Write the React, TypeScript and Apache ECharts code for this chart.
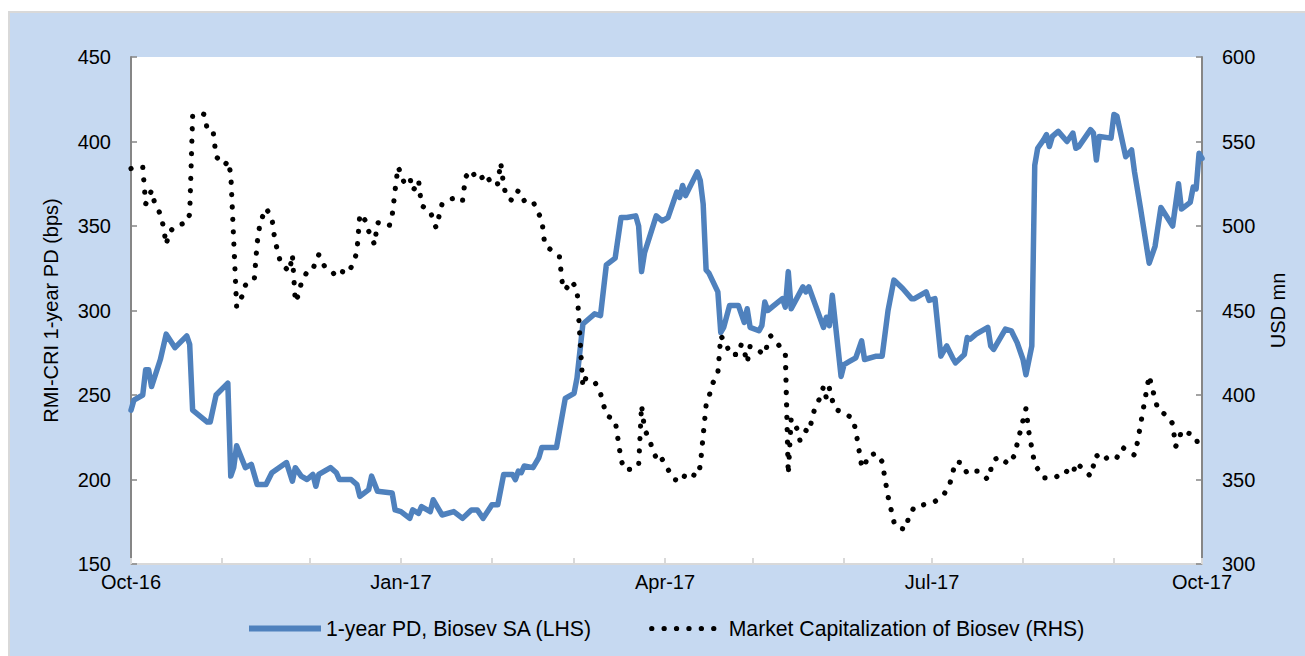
import React, { useEffect, useRef } from "react";
import * as echarts from "echarts";

// Days counted from 2016-10-01
const pdDay = [0,1,4,5,6,7,10,12,15,19,20,21,26,27,29,33,34,35,36,39,41,43,46,48,53,55,56,58,60,62,63,64,68,70,71,75,77,78,81,82,84,89,90,92,95,96,98,99,102,103,106,110,113,116,118,120,123,125,127,130,131,132,133,134,137,139,140,145,148,151,152,154,158,160,162,165,167,169,172,173,174,175,179,181,183,186,187,188,189,193,194,195,196,197,200,201,202,204,207,209,210,211,214,215,216,217,222,223,224,225,229,230,231,236,237,238,239,242,243,245,247,249,250,254,256,258,260,263,266,267,271,272,274,276,278,280,281,284,285,286,288,292,293,294,298,300,302,304,305,307,308,309,311,312,313,314,316,319,321,322,323,327,328,329,330,334,335,336,337,339,341,342,344,347,349,351,355,357,358,361,362,363,364,365];
const pdValue = [241,247,250,265,265,255,271,286,278,285,280,241,234,234,250,257,202,207,220,207,209,197,197,204,210,199,207,202,200,203,196,203,207,204,200,200,197,190,194,202,193,192,182,181,177,182,180,184,181,188,179,181,177,182,182,177,185,185,203,203,200,205,204,208,207,213,219,219,248,251,260,292,298,297,327,331,355,355,356,350,323,334,356,353,355,370,367,374,368,382,377,363,324,322,311,287,290,303,303,293,301,290,288,291,305,300,307,302,323,301,314,311,314,290,296,291,309,261,268,270,272,282,271,273,273,300,318,313,307,307,311,306,307,273,279,272,269,274,284,283,286,290,279,277,289,288,281,271,262,279,386,396,401,404,397,403,406,400,405,396,397,407,405,389,403,402,416,415,407,391,395,382,361,328,338,361,350,375,360,364,373,372,393,390];

const mcDay = [0,4,5,7,8,10,11,12,13,15,19,20,21,23,25,26,28,29,32,33,34,36,38,39,42,43,44,46,48,49,50,51,54,55,56,57,58,60,62,63,64,66,68,70,72,74,76,77,78,80,81,83,84,88,89,90,91,92,93,95,96,97,98,99,102,103,104,105,106,109,112,113,114,116,118,120,121,123,125,126,127,128,130,132,134,137,138,140,141,143,146,147,148,150,152,154,155,158,160,162,165,167,168,170,173,174,175,177,178,180,181,183,185,188,189,193,194,196,197,198,200,201,203,204,207,208,209,210,211,214,216,217,218,221,223,224,225,227,228,230,231,233,235,236,237,238,239,240,243,246,247,249,250,251,254,256,257,258,260,261,264,265,267,270,274,277,279,281,283,285,287,289,292,294,296,299,301,302,305,306,308,311,313,315,318,321,322,324,327,329,331,334,336,338,340,342,343,347,348,349,350,353,355,356,357,358,361,363,364];
const mcValue = [534,535,513,521,514,507,500,489,496,500,502,507,565,567,566,557,556,541,536,538.5,531,452,459,465,468,490,502,510.5,505,492,485,478,473,483,455,459,466,473,474,480,483,476,474,470,473,472,479,485,507,503,497,489,502,500,506,521,535,531,526,529,521,523,527,512,509,503,499,506,513,516,517,515,529,533,527,529,531,524,525,537.5,524,517,515,521,515,515,510,504,489,486,482,466,462,467.5,463,405,410,408,401,388,385,362,356,356,358,394,380,372,366,360,362,356,350,349,354,352,358,394,399,406,413,435,430,424,424,430,426,419,429,426,424,431,435,429,425,353,386,380,373,379,378,392,399,405,398,404,397,391.5,389.5,386,379,358,357,364,365.5,360.5,350,340,325,321.5,320.5,327.5,334,335,337,341,347,360.5,360,353.5,355,355,350,361.5,363.5,359,364,371,392,378,359,351,351,351,355.5,353,360,357,352,364.5,361,364.5,363,369,366,364.5,372,411.5,404,398,391,388,383,369.5,372,379,377,375,367.5];

// Month starts (days from 2016-10-01) and the labelled ones
const monthTickDays = [0,31,61,92,123,151,182,212,243,273,304,335,365];
const monthLabelDays = [0,92,182,273,365];
const monthNames = ["Jan","Feb","Mar","Apr","May","Jun","Jul","Aug","Sep","Oct","Nov","Dec"];

const pdName = "1-year PD, Biosev SA (LHS)";
const mcName = "Market Capitalization of Biosev (RHS)";
const leftAxisName = "RMI-CRI 1-year PD (bps)";
const rightAxisName = "USD mn";

const dayToLabel = (day: number) => {
  const d = new Date(2016, 9, 1 + Math.round(day));
  return monthNames[d.getMonth()] + "-" + String(d.getFullYear()).slice(2);
};

export default function App() {
  const ref = useRef<HTMLDivElement>(null);
  useEffect(() => {
    if (!ref.current) return;
    const chart = echarts.init(ref.current, null, { renderer: "svg" });
    const font = "'Liberation Sans', Arial, sans-serif";
    const hiddenSymbol = { color: "transparent", borderColor: "transparent", borderWidth: 0, opacity: 0 };
    chart.setOption({
      animation: false,
      textStyle: { fontFamily: font },
      grid: {
        left: 131, right: 103, top: 57, bottom: 92,
        show: true, backgroundColor: "#ffffff", borderWidth: 0,
      },
      xAxis: {
        type: "value",
        min: 0,
        max: 365,
        axisLine: { show: true, onZero: false, lineStyle: { color: "#d9d9d9", width: 2 } },
        axisTick: {
          show: true, inside: true, length: 6,
          lineStyle: { color: "#d9d9d9", width: 2 },
          customValues: monthTickDays,
        },
        axisLabel: {
          customValues: monthLabelDays,
          formatter: (v: number) => dayToLabel(v),
          color: "#000", fontSize: 20, margin: 8, fontFamily: font,
          showMinLabel: true, showMaxLabel: true, hideOverlap: false,
        },
        splitLine: { show: false },
      },
      yAxis: [
        {
          type: "value", position: "left", min: 150, max: 450, interval: 50,
          name: leftAxisName, nameLocation: "middle", nameGap: 70, nameRotate: 90,
          nameTextStyle: { fontSize: 20, color: "#000", fontFamily: font },
          axisLine: { show: true, lineStyle: { color: "#868686", width: 2 } },
          axisTick: { show: true, inside: true, length: 6, lineStyle: { color: "#868686", width: 1.5 } },
          axisLabel: { color: "#000", fontSize: 20, margin: 20, fontFamily: font },
          splitLine: { show: false },
        },
        {
          type: "value", position: "right", min: 300, max: 600, interval: 50,
          name: rightAxisName, nameLocation: "middle", nameGap: 66, nameRotate: 90,
          nameTextStyle: { fontSize: 20, color: "#000", fontFamily: font },
          axisLine: { show: true, lineStyle: { color: "#868686", width: 2 } },
          axisTick: { show: true, inside: true, length: 6, lineStyle: { color: "#868686", width: 1.5 } },
          axisLabel: { color: "#000", fontSize: 20, margin: 20, fontFamily: font },
          splitLine: { show: false },
        },
      ],
      legend: {
        left: 246, top: 618, padding: 0,
        itemWidth: 72, itemHeight: 14, itemGap: 57,
        textStyle: { fontSize: 21.2, color: "#000", fontFamily: font },
        data: [
          { name: pdName, itemStyle: hiddenSymbol, lineStyle: { width: 6, cap: "butt" } },
          { name: mcName, itemStyle: hiddenSymbol, lineStyle: { width: 5.2, cap: "round" } },
        ],
      },
      series: [
        {
          name: pdName, type: "line", yAxisIndex: 0,
          data: pdDay.map((d, i) => [d, pdValue[i]]),
          symbol: "none", showSymbol: false,
          lineStyle: { color: "#4F81BD", width: 5.5, join: "round", cap: "round" },
          itemStyle: { color: "#4F81BD" },
        },
        {
          name: mcName, type: "line", yAxisIndex: 1,
          data: mcDay.map((d, i) => [d, mcValue[i]]),
          symbol: "none", showSymbol: false,
          lineStyle: { color: "#000000", width: 5.2, type: [0.1, 12.3], cap: "round", join: "round" },
          itemStyle: { color: "#000000" },
        },
      ],
    });
    return () => chart.dispose();
  }, []);
  return (
    <div style={{ position: "absolute", left: 0, top: 0, width: 1305, height: 656, background: "#ffffff", overflow: "hidden" }}>
      <div style={{ position: "absolute", left: 8, top: 11, right: 0, bottom: 0, background: "#C6D9F1", borderLeft: "2px solid #d9d9d9", borderTop: "2px solid #d9d9d9" }} />
      <div ref={ref} style={{ position: "absolute", left: 0, top: 0, width: 1305, height: 656 }} />
    </div>
  );
}
